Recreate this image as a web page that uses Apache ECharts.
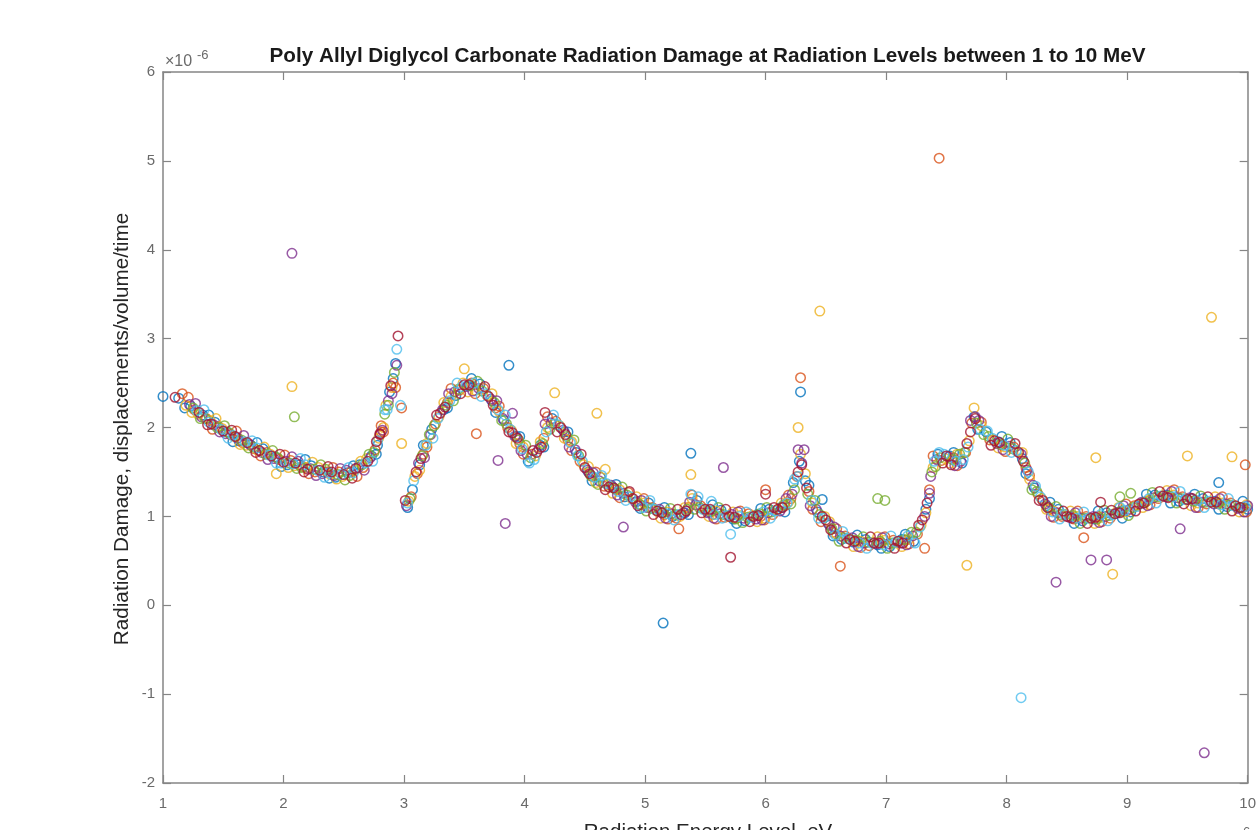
<!DOCTYPE html>
<html>
<head>
<meta charset="utf-8">
<script src="https://cdn.jsdelivr.net/npm/echarts@6/dist/echarts.min.js"></script>
<style>
html,body{margin:0;padding:0;background:#fff;overflow:hidden;}
#chart{width:1259px;height:830px;}
</style>
</head>
<body>
<div id="chart"></div>
<script>
// Energy in MeV (axis shows x10^6 eV), damage in units of 1e-6
const xTicks = [1,2,3,4,5,6,7,8,9,10];
const yTicks = [-2,-1,0,1,2,3,4,5,6];
const seriesNames = ['Run 1','Run 2','Run 3','Run 4','Run 5','Run 6','Run 7'];

const run1 = [[1.0,2.35],[1.13,2.33],[1.33,2.14],[1.53,1.95],[1.73,1.8],[1.93,1.67],[2.13,1.58],[2.33,1.5],[2.53,1.49],[2.73,1.68],[2.88,2.4],[2.93,2.72],[3.03,1.1],[3.13,1.58],[3.33,2.2],[3.53,2.47],[3.73,2.3],[3.93,1.9],[4.13,1.8],[4.33,1.95],[4.53,1.5],[4.73,1.33],[4.93,1.17],[5.13,1.05],[5.33,1.04],[5.53,1.05],[5.73,0.97],[5.93,1.02],[6.13,1.1],[6.28,1.62],[6.33,1.4],[6.53,0.9],[6.73,0.71],[6.93,0.68],[7.13,0.74],[7.33,1.08],[7.53,1.68],[7.73,2.12],[7.93,1.84],[8.13,1.65],[8.33,1.12],[8.53,1.0],[8.73,0.97],[8.93,1.05],[9.13,1.15],[9.33,1.24],[9.53,1.2],[9.73,1.17],[9.93,1.1],
  [3.87,2.7],[5.15,-0.2],[6.29,2.4],[5.38,1.71],[9.76,1.38],[6.47,1.19]];
const run1b = [[1.23,2.24],[1.43,2.06],[1.63,1.85],[1.83,1.76],[2.03,1.58],[2.23,1.57],[2.43,1.44],[2.63,1.58],[2.78,1.8],[2.91,2.55],[3.07,1.3],[3.23,1.98],[3.43,2.36],[3.63,2.49],[3.83,2.08],[4.03,1.62],[4.23,2.1],[4.43,1.72],[4.63,1.44],[4.83,1.22],[5.03,1.15],[5.23,1.0],[5.43,1.18],[5.63,1.07],[5.83,0.95],[6.03,1.08],[6.23,1.38],[6.43,1.05],[6.63,0.74],[6.83,0.74],[7.03,0.66],[7.23,0.72],[7.43,1.7],[7.63,1.6],[7.83,1.95],[8.03,1.83],[8.23,1.32],[8.43,1.08],[8.63,0.95],[8.83,1.04],[9.03,1.05],[9.23,1.24],[9.43,1.17],[9.63,1.2],[9.83,1.11],[10.0,1.08]];
const run1c = [[1.18,2.22],[1.38,2.14],[1.58,1.84],[1.78,1.83],[1.98,1.56],[2.18,1.64],[2.38,1.43],[2.58,1.57],[2.77,1.7],[3.16,1.8],[3.36,2.22],[3.56,2.55],[3.76,2.17],[3.96,1.9],[4.16,1.78],[4.36,1.95],[4.56,1.4],[4.76,1.36],[4.96,1.09],[5.16,1.1],[5.36,1.02],[5.56,1.13],[5.76,0.92],[5.96,1.09],[6.16,1.05],[6.36,1.35],[6.56,0.78],[6.76,0.79],[6.96,0.64],[7.16,0.8],[7.36,1.2],[7.56,1.72],[7.76,1.98],[7.96,1.9],[8.16,1.48],[8.36,1.16],[8.56,0.92],[8.76,1.06],[8.96,0.98],[9.16,1.25],[9.36,1.15],[9.56,1.25],[9.76,1.08],[9.96,1.17]];
const run2 = [[1.16,2.38],[1.36,2.1],[1.56,1.92],[1.76,1.76],[1.96,1.64],[2.16,1.56],[2.36,1.5],[2.56,1.5],[2.76,1.75],[2.83,1.95],[2.91,2.5],[3.06,1.22],[3.16,1.7],[3.36,2.28],[3.56,2.5],[3.76,2.22],[3.96,1.82],[4.16,1.88],[4.36,1.86],[4.56,1.45],[4.76,1.3],[4.96,1.13],[5.16,1.02],[5.36,1.1],[5.56,1.02],[5.76,0.98],[5.96,1.0],[6.16,1.12],[6.26,1.45],[6.36,1.28],[6.56,0.82],[6.76,0.72],[6.96,0.7],[7.16,0.73],[7.36,1.3],[7.56,1.66],[7.71,2.05],[7.96,1.8],[8.16,1.55],[8.36,1.08],[8.56,0.97],[8.76,1.0],[8.96,1.06],[9.16,1.17],[9.36,1.22],[9.56,1.18],[9.76,1.14],[9.96,1.1],
  [2.98,2.22],[3.6,1.93],[6.29,2.56],[7.44,5.03],[6.62,0.44],[7.32,0.64],[9.98,1.58],[8.64,0.76],[5.28,0.86],[6.0,1.3]];
const run2b = [[1.26,2.2],[1.46,2.01],[1.66,1.83],[1.86,1.72],[2.06,1.63],[2.26,1.5],[2.46,1.5],[2.66,1.55],[2.81,1.95],[2.93,2.45],[3.11,1.48],[3.26,2.04],[3.46,2.42],[3.66,2.44],[3.86,2.0],[4.06,1.7],[4.26,2.07],[4.46,1.62],[4.66,1.34],[4.86,1.27],[5.06,1.1],[5.26,0.98],[5.46,1.12],[5.66,0.99],[5.86,1.03],[6.06,1.02],[6.21,1.2],[6.46,0.94],[6.66,0.78],[6.86,0.67],[7.06,0.73],[7.26,0.8],[7.46,1.63],[7.66,1.72],[7.86,1.86],[8.06,1.78],[8.26,1.25],[8.46,1.0],[8.66,1.0],[8.86,0.98],[9.06,1.12],[9.26,1.2],[9.46,1.22],[9.66,1.14],[9.86,1.15]];
const run2c = [[1.21,2.34],[1.41,1.98],[1.61,1.96],[1.81,1.68],[2.01,1.69],[2.21,1.48],[2.41,1.55],[2.61,1.45],[2.81,2.02],[3.19,1.78],[3.39,2.44],[3.59,2.38],[3.79,2.24],[3.99,1.7],[4.19,2.12],[4.39,1.74],[4.59,1.5],[4.79,1.21],[4.99,1.2],[5.19,0.97],[5.39,1.24],[5.59,0.97],[5.79,1.06],[5.99,0.96],[6.19,1.24],[6.39,1.08],[6.59,0.86],[6.79,0.65],[6.99,0.77],[7.19,0.69],[7.39,1.68],[7.59,1.57],[7.79,2.06],[7.99,1.73],[8.19,1.46],[8.39,0.99],[8.59,1.06],[8.79,0.94],[8.99,1.14],[9.19,1.13],[9.39,1.3],[9.59,1.1],[9.79,1.22],[9.99,1.05]];
const run3 = [[1.19,2.25],[1.39,2.08],[1.59,1.9],[1.79,1.74],[1.94,1.48],[2.19,1.55],[2.39,1.47],[2.59,1.52],[2.79,1.88],[2.9,2.45],[3.09,1.45],[3.29,2.12],[3.49,2.5],[3.69,2.36],[3.89,1.97],[4.09,1.68],[4.29,2.02],[4.49,1.58],[4.69,1.36],[4.89,1.2],[5.09,1.07],[5.29,1.0],[5.49,1.08],[5.69,1.0],[5.89,1.01],[6.09,1.07],[6.29,1.7],[6.49,1.0],[6.69,0.75],[6.89,0.71],[7.09,0.7],[7.29,0.9],[7.49,1.65],[7.69,1.85],[7.89,1.86],[8.09,1.73],[8.29,1.2],[8.49,1.02],[8.69,0.98],[8.89,1.03],[9.09,1.13],[9.29,1.23],[9.49,1.19],[9.69,1.16],[9.89,1.12],
  [2.07,2.46],[2.98,1.82],[3.5,2.66],[4.25,2.39],[4.6,2.16],[4.67,1.53],[5.38,1.47],[6.27,2.0],[6.45,3.31],[7.67,0.45],[8.74,1.66],[8.88,0.35],[9.5,1.68],[9.7,3.24],[9.87,1.67]];
const run3b = [[1.29,2.15],[1.49,1.99],[1.69,1.8],[1.89,1.7],[2.09,1.57],[2.29,1.55],[2.49,1.45],[2.69,1.65],[2.85,2.25],[3.04,1.17],[3.19,1.82],[3.39,2.35],[3.59,2.42],[3.79,2.18],[3.99,1.78],[4.19,2.0],[4.39,1.84],[4.59,1.38],[4.79,1.3],[4.99,1.15],[5.19,1.05],[5.39,1.2],[5.59,1.06],[5.79,1.01],[5.99,0.98],[6.19,1.16],[6.39,1.15],[6.59,0.8],[6.79,0.72],[6.99,0.73],[7.19,0.74],[7.39,1.55],[7.59,1.7],[7.79,2.02],[7.99,1.78],[8.19,1.42],[8.39,1.06],[8.59,1.0],[8.79,0.99],[8.99,1.05],[9.19,1.19],[9.39,1.24],[9.59,1.15],[9.79,1.15],[9.99,1.13]];
const run3c = [[1.24,2.17],[1.44,2.1],[1.64,1.81],[1.84,1.78],[2.04,1.55],[2.24,1.61],[2.44,1.42],[2.64,1.62],[2.83,2.0],[3.13,1.52],[3.33,2.28],[3.53,2.4],[3.73,2.38],[3.93,1.82],[4.13,1.84],[4.33,1.88],[4.53,1.56],[4.73,1.26],[4.93,1.22],[5.13,0.98],[5.33,1.1],[5.53,1.0],[5.73,1.05],[5.93,0.94],[6.13,1.15],[6.33,1.48],[6.53,0.94],[6.73,0.66],[6.93,0.77],[7.13,0.66],[7.33,1.04],[7.53,1.6],[7.73,2.22],[7.93,1.77],[8.13,1.72],[8.33,1.08],[8.53,1.06],[8.73,0.92],[8.93,1.1],[9.13,1.1],[9.33,1.29],[9.53,1.12],[9.73,1.22],[9.93,1.05]];
const run4 = [[1.22,2.26],[1.42,2.03],[1.62,1.88],[1.82,1.72],[2.02,1.62],[2.22,1.54],[2.42,1.46],[2.62,1.55],[2.82,1.97],[2.94,2.7],[3.02,1.12],[3.22,1.92],[3.42,2.4],[3.62,2.44],[3.82,2.1],[4.02,1.7],[4.22,2.05],[4.42,1.75],[4.62,1.4],[4.82,1.26],[5.02,1.1],[5.22,1.03],[5.42,1.13],[5.62,1.03],[5.82,0.98],[6.02,1.04],[6.22,1.25],[6.32,1.75],[6.42,1.08],[6.62,0.78],[6.82,0.7],[7.02,0.69],[7.22,0.78],[7.42,1.64],[7.62,1.62],[7.74,2.12],[8.02,1.79],[8.22,1.35],[8.42,1.04],[8.62,0.98],[8.82,1.0],[9.02,1.08],[9.22,1.21],[9.42,1.21],[9.62,1.16],[9.82,1.14],[10.0,1.12],
  [2.07,3.96],[3.78,1.63],[3.84,0.92],[3.9,2.16],[4.82,0.88],[5.65,1.55],[7.36,1.26],[8.41,0.26],[8.7,0.51],[8.83,0.51],[9.44,0.86],[9.64,-1.66],[6.27,1.75]];
const run4b = [[1.32,2.12],[1.52,1.93],[1.72,1.81],[1.92,1.65],[2.12,1.62],[2.32,1.48],[2.52,1.52],[2.72,1.66],[2.87,2.3],[3.12,1.6],[3.32,2.2],[3.52,2.46],[3.72,2.32],[3.92,1.9],[4.12,1.76],[4.32,1.97],[4.52,1.52],[4.72,1.35],[4.92,1.16],[5.12,1.08],[5.32,1.04],[5.52,1.04],[5.72,1.02],[5.92,0.97],[6.12,1.06],[6.3,1.6],[6.52,0.92],[6.72,0.76],[6.92,0.69],[7.12,0.7],[7.32,1.0],[7.52,1.67],[7.7,2.08],[7.92,1.82],[8.12,1.7],[8.32,1.14],[8.52,0.99],[8.72,1.0],[8.92,1.04],[9.12,1.16],[9.32,1.22],[9.52,1.21],[9.72,1.14],[9.92,1.09]];
const run4c = [[1.27,2.27],[1.47,1.95],[1.67,1.91],[1.87,1.64],[2.07,1.67],[2.27,1.46],[2.47,1.54],[2.67,1.52],[2.9,2.38],[3.17,1.66],[3.37,2.38],[3.57,2.41],[3.77,2.3],[3.97,1.74],[4.17,2.04],[4.37,1.78],[4.57,1.49],[4.77,1.24],[4.97,1.18],[5.17,0.98],[5.37,1.16],[5.57,0.98],[5.77,1.05],[5.97,0.96],[6.17,1.2],[6.37,1.12],[6.57,0.88],[6.77,0.66],[6.97,0.76],[7.17,0.68],[7.37,1.45],[7.57,1.57],[7.77,2.08],[7.97,1.75],[8.17,1.52],[8.37,1.0],[8.57,1.04],[8.77,0.93],[8.97,1.12],[9.17,1.12],[9.37,1.28],[9.57,1.1],[9.77,1.2],[9.97,1.05]];
const run5 = [[1.25,2.22],[1.45,2.0],[1.65,1.86],[1.85,1.7],[2.05,1.6],[2.09,2.12],[2.25,1.53],[2.45,1.47],[2.65,1.58],[2.84,2.15],[3.05,1.2],[3.25,2.02],[3.45,2.43],[3.65,2.41],[3.85,2.04],[4.05,1.66],[4.25,2.04],[4.45,1.68],[4.65,1.38],[4.85,1.24],[5.05,1.09],[5.25,1.02],[5.45,1.1],[5.65,1.02],[5.85,0.99],[6.05,1.05],[6.24,1.3],[6.45,1.02],[6.65,0.76],[6.85,0.71],[7.05,0.7],[7.25,0.82],[7.45,1.66],[7.65,1.72],[7.85,1.9],[8.05,1.76],[8.25,1.28],[8.45,1.02],[8.65,0.98],[8.85,1.01],[9.05,1.1],[9.25,1.22],[9.45,1.2],[9.65,1.16],[9.85,1.13],
  [6.93,1.2],[6.99,1.18],[8.94,1.22],[9.03,1.26]];
const run5b = [[1.35,2.1],[1.55,1.94],[1.75,1.78],[1.95,1.66],[2.15,1.55],[2.35,1.53],[2.55,1.46],[2.75,1.72],[2.92,2.62],[3.15,1.68],[3.35,2.25],[3.55,2.47],[3.75,2.28],[3.95,1.86],[4.15,1.82],[4.35,1.9],[4.55,1.46],[4.75,1.31],[4.95,1.14],[5.15,1.04],[5.35,1.08],[5.55,1.06],[5.75,0.97],[5.95,1.03],[6.15,1.13],[6.35,1.25],[6.55,0.86],[6.75,0.73],[6.95,0.72],[7.15,0.74],[7.38,1.5],[7.55,1.64],[7.75,2.05],[7.95,1.81],[8.15,1.6],[8.35,1.1],[8.55,1.01],[8.75,0.97],[8.95,1.06],[9.15,1.16],[9.35,1.23],[9.55,1.17],[9.75,1.15],[9.95,1.1]];
const run5c = [[1.31,2.1],[1.51,2.02],[1.71,1.77],[1.91,1.74],[2.11,1.54],[2.31,1.58],[2.51,1.41],[2.71,1.7],[2.87,2.25],[3.21,1.92],[3.41,2.3],[3.61,2.52],[3.81,2.08],[4.01,1.8],[4.21,1.98],[4.41,1.86],[4.61,1.36],[4.81,1.33],[5.01,1.06],[5.21,1.09],[5.41,1.08],[5.61,1.1],[5.81,0.93],[6.01,1.1],[6.21,1.14],[6.41,1.18],[6.61,0.72],[6.81,0.77],[7.01,0.64],[7.21,0.82],[7.41,1.56],[7.61,1.7],[7.81,1.92],[8.01,1.87],[8.21,1.3],[8.41,1.11],[8.61,0.92],[8.81,1.07],[9.01,1.01],[9.21,1.27],[9.41,1.15],[9.61,1.23],[9.81,1.08]];
const run6 = [[1.28,2.19],[1.48,1.98],[1.68,1.84],[1.88,1.69],[2.08,1.59],[2.28,1.52],[2.48,1.47],[2.68,1.6],[2.86,2.2],[2.94,2.88],[3.08,1.4],[3.28,2.1],[3.48,2.46],[3.68,2.38],[3.88,1.98],[4.08,1.64],[4.28,2.03],[4.48,1.62],[4.68,1.37],[4.88,1.22],[5.08,1.08],[5.28,1.02],[5.48,1.08],[5.68,1.01],[5.88,0.99],[6.08,1.06],[6.27,1.45],[6.48,0.98],[6.68,0.75],[6.88,0.7],[7.08,0.71],[7.28,0.88],[7.48,1.7],[7.68,1.78],[7.88,1.88],[8.08,1.74],[8.28,1.22],[8.48,1.02],[8.68,0.98],[8.88,1.02],[9.08,1.11],[9.28,1.23],[9.48,1.19],[9.68,1.17],[9.88,1.12],
  [2.84,2.2],[5.71,0.8],[8.12,-1.04],[5.55,1.17]];
const run6b = [[1.38,2.06],[1.58,1.91],[1.78,1.77],[1.98,1.6],[2.18,1.58],[2.38,1.49],[2.58,1.49],[2.78,1.85],[2.97,2.25],[3.18,1.8],[3.38,2.3],[3.58,2.5],[3.78,2.2],[3.98,1.76],[4.18,1.95],[4.38,1.83],[4.58,1.44],[4.78,1.28],[4.98,1.1],[5.18,1.03],[5.38,1.25],[5.58,1.02],[5.78,1.0],[5.98,1.05],[6.18,1.15],[6.38,1.18],[6.58,0.79],[6.78,0.7],[6.98,0.68],[7.18,0.78],[7.4,1.62],[7.58,1.62],[7.78,1.98],[7.98,1.8],[8.18,1.5],[8.38,1.05],[8.58,0.98],[8.78,1.02],[8.98,1.07],[9.18,1.2],[9.38,1.22],[9.58,1.18],[9.78,1.13],[9.98,1.11]];
const run6c = [[1.34,2.2],[1.54,1.88],[1.74,1.85],[1.94,1.6],[2.14,1.65],[2.34,1.44],[2.54,1.55],[2.74,1.62],[3.03,1.15],[3.24,1.88],[3.44,2.5],[3.64,2.35],[3.84,2.14],[4.04,1.6],[4.24,2.14],[4.44,1.68],[4.64,1.46],[4.84,1.18],[5.04,1.18],[5.24,0.96],[5.44,1.22],[5.64,0.98],[5.84,1.05],[6.04,0.98],[6.24,1.42],[6.44,0.98],[6.64,0.83],[6.84,0.64],[7.04,0.78],[7.24,0.7],[7.44,1.72],[7.64,1.64],[7.84,1.96],[8.04,1.72],[8.24,1.34],[8.44,0.97],[8.64,1.05],[8.84,0.95],[8.94,1.1],[9.24,1.15],[9.44,1.28],[9.64,1.1],[9.84,1.2]];
const run7 = [[1.1,2.34],[1.3,2.17],[1.5,1.96],[1.7,1.83],[1.9,1.68],[2.1,1.6],[2.3,1.52],[2.5,1.47],[2.7,1.62],[2.8,1.92],[2.95,3.03],[3.1,1.5],[3.3,2.16],[3.5,2.48],[3.7,2.35],[3.9,1.94],[4.1,1.72],[4.3,2.0],[4.5,1.55],[4.7,1.33],[4.9,1.2],[5.1,1.06],[5.3,1.02],[5.5,1.08],[5.7,1.0],[5.9,1.0],[6.1,1.08],[6.3,1.58],[6.5,0.96],[6.7,0.74],[6.9,0.7],[7.1,0.72],[7.3,0.96],[7.5,1.68],[7.7,1.95],[7.9,1.85],[8.1,1.72],[8.3,1.18],[8.5,1.0],[8.7,0.98],[8.9,1.03],[9.1,1.14],[9.3,1.23],[9.5,1.19],[9.7,1.16],[9.9,1.12],
  [5.71,0.54],[6.0,1.25],[4.17,2.17],[8.78,1.16]];
const run7b = [[1.4,2.04],[1.6,1.9],[1.8,1.74],[2.0,1.61],[2.2,1.53],[2.4,1.5],[2.6,1.54],[2.8,1.93],[2.89,2.47],[3.14,1.65],[3.34,2.23],[3.54,2.48],[3.74,2.25],[3.94,1.88],[4.14,1.78],[4.34,1.92],[4.54,1.48],[4.74,1.32],[4.94,1.12],[5.14,1.04],[5.34,1.06],[5.54,1.08],[5.74,0.99],[5.94,1.01],[6.14,1.1],[6.34,1.32],[6.54,0.85],[6.74,0.72],[6.94,0.7],[7.14,0.7],[7.34,1.15],[7.54,1.58],[7.74,2.1],[7.94,1.83],[8.14,1.62],[8.34,1.1],[8.54,0.98],[8.74,0.99],[8.94,1.04],[9.14,1.15],[9.34,1.21],[9.54,1.2],[9.74,1.16],[9.94,1.1]];
const run7c = [[1.37,2.03],[1.57,1.97],[1.77,1.72],[1.97,1.7],[2.17,1.5],[2.37,1.56],[2.57,1.43],[2.77,1.84],[3.01,1.18],[3.27,2.14],[3.47,2.38],[3.67,2.46],[3.87,1.95],[4.07,1.74],[4.27,1.95],[4.47,1.7],[4.67,1.3],[4.87,1.28],[5.07,1.02],[5.27,1.08],[5.47,1.04],[5.67,1.08],[5.87,0.94],[6.07,1.1],[6.27,1.5],[6.47,1.0],[6.67,0.7],[6.87,0.77],[7.07,0.64],[7.27,0.9],[7.47,1.6],[7.67,1.82],[7.87,1.8],[8.07,1.82],[8.27,1.18],[8.47,1.06],[8.67,0.92],[8.87,1.07],[9.07,1.06],[9.27,1.28],[9.47,1.14],[9.67,1.22],[9.87,1.06]];

const runs = [run1.concat(run1b, run1c), run2.concat(run2b, run2c), run3.concat(run3b, run3c), run4.concat(run4b, run4c),
              run5.concat(run5b, run5c), run6.concat(run6b, run6c), run7.concat(run7b, run7c)];
const colors = ['#0072BD','#D95319','#EDB120','#7E2F8E','#77AC30','#4DBEEE','#A2142F'];

const FONT = 'Liberation Sans, Arial, Helvetica, sans-serif';
const axisGray = '#858585';
const labelGray = '#6a6a6a';

const chart = echarts.init(document.getElementById('chart'), null, {renderer: 'canvas'});

const baseX = {
  type: 'value', min: xTicks[0], max: xTicks[xTicks.length - 1], interval: 1,
  axisLine: {show: true, onZero: false, lineStyle: {color: axisGray, width: 1.5}},
  axisTick: {show: true, inside: true, length: 8, lineStyle: {color: axisGray, width: 1.2}},
  splitLine: {show: false}
};
const baseY = {
  type: 'value', min: yTicks[0], max: yTicks[yTicks.length - 1], interval: 1,
  axisLine: {show: true, onZero: false, lineStyle: {color: axisGray, width: 1.5}},
  axisTick: {show: true, inside: true, length: 8, lineStyle: {color: axisGray, width: 1.2}},
  splitLine: {show: false}
};

const option = {
  animation: false,
  backgroundColor: '#ffffff',
  grid: {left: 163, right: 7, top: 72, bottom: 47, containLabel: false},
  xAxis: [
    Object.assign({}, baseX, {position: 'bottom',
      axisLabel: {show: true, margin: 13, color: labelGray, fontSize: 15, fontFamily: FONT, showMinLabel: true, showMaxLabel: true}}),
    Object.assign({}, baseX, {position: 'top', axisLabel: {show: false}})
  ],
  yAxis: [
    Object.assign({}, baseY, {position: 'left',
      axisLabel: {show: true, margin: 8, color: labelGray, fontSize: 15, fontFamily: FONT, showMinLabel: true, showMaxLabel: true}}),
    Object.assign({}, baseY, {position: 'right', axisLabel: {show: false}})
  ],
  series: runs.map((d, i) => ({
    name: seriesNames[i],
    type: 'scatter',
    xAxisIndex: 0, yAxisIndex: 0,
    symbol: 'circle',
    symbolSize: 9.5,
    data: d,
    itemStyle: {color: 'rgba(255,255,255,0)', borderColor: colors[i], borderWidth: 1.5, opacity: 0.8},
    emphasis: {disabled: true},
    clip: false
  })),
  graphic: [
    {type: 'text', x: 707.5, y: 56, style: {text: 'Poly Allyl Diglycol Carbonate Radiation Damage at Radiation Levels between 1 to 10 MeV',
      font: 'bold 20.7px ' + FONT, fill: '#1a1a1a', textAlign: 'center', textVerticalAlign: 'middle', align: 'center', verticalAlign: 'middle'}},
    {type: 'text', x: 122, y: 429, rotation: Math.PI / 2, style: {text: 'Radiation Damage, displacements/volume/time',
      font: '20.7px ' + FONT, fill: '#262626', textAlign: 'center', textVerticalAlign: 'middle', align: 'center', verticalAlign: 'middle'}},
    {type: 'text', x: 708, y: 832, style: {text: 'Radiation Energy Level, eV',
      font: '20.5px ' + FONT, fill: '#262626', textAlign: 'center', textVerticalAlign: 'middle', align: 'center', verticalAlign: 'middle'}},
    {type: 'text', x: 165, y: 62, style: {text: '×10', font: '16px ' + FONT, fill: labelGray, textAlign: 'left', textVerticalAlign: 'middle', align: 'left', verticalAlign: 'middle'}},
    {type: 'text', x: 197, y: 55, style: {text: '-6', font: '13px ' + FONT, fill: labelGray, textAlign: 'left', textVerticalAlign: 'middle', align: 'left', verticalAlign: 'middle'}},
    {type: 'text', x: 1241, y: 840, style: {text: '×10', font: '16px ' + FONT, fill: labelGray, textAlign: 'right', textVerticalAlign: 'middle', align: 'right', verticalAlign: 'middle'}},
    {type: 'text', x: 1243, y: 832, style: {text: '6', font: '13px ' + FONT, fill: labelGray, textAlign: 'left', textVerticalAlign: 'middle', align: 'left', verticalAlign: 'middle'}}
  ]
};
chart.setOption(option);
</script>
</body>
</html>
